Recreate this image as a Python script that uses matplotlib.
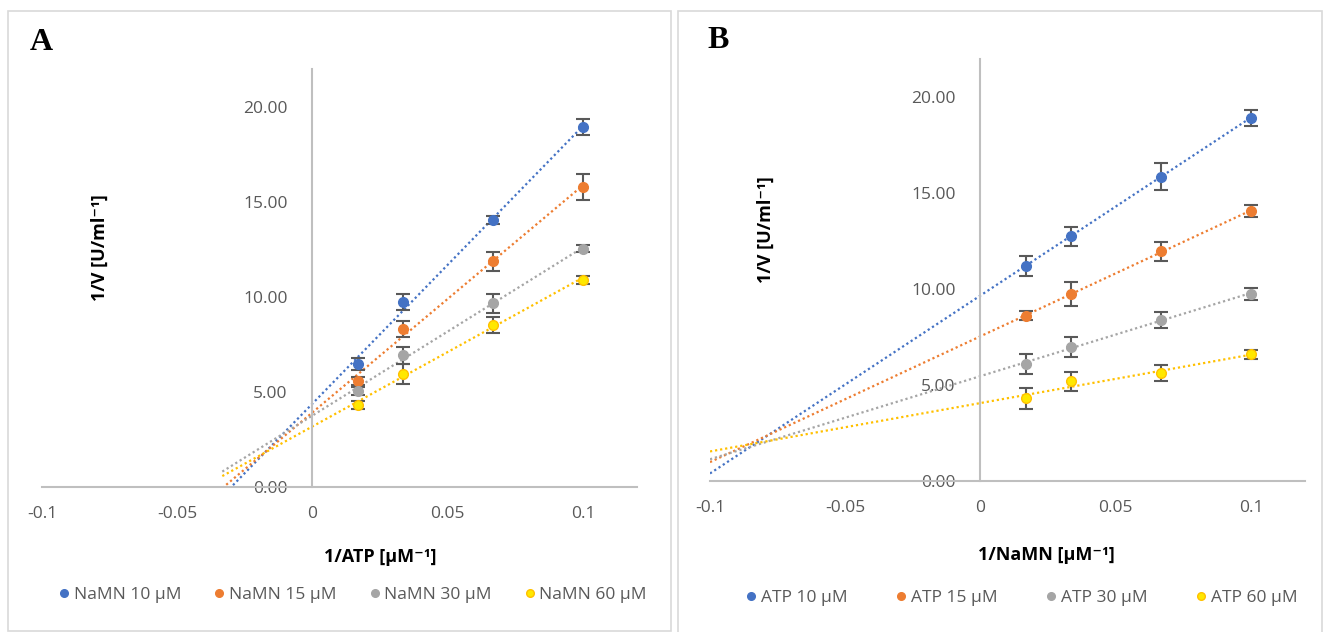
import numpy as np
import matplotlib
matplotlib.use("Agg")
import matplotlib.pyplot as plt
from matplotlib.patches import Rectangle
from matplotlib.lines import Line2D

plt.rcParams['font.family'] = ['Open Sans', 'DejaVu Sans']

# ---- data ----
x_vals = [1/60, 1/30, 1/15, 1/10]

labels_a = ["NaMN 10 µM", "NaMN 15 µM", "NaMN 30 µM", "NaMN 60 µM"]
y_a = [
    [6.47, 9.74, 14.05, 18.95],
    [5.58, 8.33, 11.89, 15.79],
    [5.05, 6.93, 9.68, 12.55],
    [4.31, 5.96, 8.54, 10.91],
]
err_a = [
    [0.30, 0.41, 0.22, 0.43],
    [0.20, 0.42, 0.50, 0.70],
    [0.23, 0.44, 0.50, 0.20],
    [0.22, 0.53, 0.41, 0.20],
]

labels_b = ["ATP 10 µM", "ATP 15 µM", "ATP 30 µM", "ATP 60 µM"]
y_b = [
    [11.20, 12.75, 15.85, 18.92],
    [8.61, 9.72, 11.96, 14.06],
    [6.10, 6.99, 8.39, 9.75],
    [4.30, 5.19, 5.61, 6.60],
]
err_b = [
    [0.50, 0.50, 0.70, 0.42],
    [0.22, 0.62, 0.50, 0.30],
    [0.51, 0.51, 0.41, 0.30],
    [0.54, 0.51, 0.42, 0.22],
]

x_ticks = [-0.1, -0.05, 0, 0.05, 0.1]
x_tick_labels = ["-0.1", "-0.05", "0", "0.05", "0.1"]
y_ticks = [0, 5, 10, 15, 20]
y_tick_labels = ["0.00", "5.00", "10.00", "15.00", "20.00"]

marker_face = ["#4472C4", "#ED7D31", "#A5A5A5", "#FFE800"]
marker_edge = ["#4472C4", "#ED7D31", "#A5A5A5", "#FFC000"]
line_cols = ["#4472C4", "#ED7D31", "#A5A5A5", "#FFC000"]

W, H = 1330, 632
fig = plt.figure(figsize=(W/100, H/100), dpi=100)

def fx(px):
    return px / W

def fy(py):
    return 1 - py / H

# panel borders
fig.patches.append(Rectangle((fx(8), fy(631)), fx(671) - fx(8), fy(11) - fy(631),
                             transform=fig.transFigure, fill=False, ec="#d9d9d9", lw=1.2))
fig.patches.append(Rectangle((fx(678), fy(640)), fx(1322) - fx(678), fy(11) - fy(640),
                             transform=fig.transFigure, fill=False, ec="#d9d9d9", lw=1.2))

def panel(rect, ys, errs, labels, trend_start, letter, letter_pos, xlabel, xlabel_pos,
          ylabel_pos, legend_pos, colspace):
    ax = fig.add_axes(rect)
    ax.set_xlim(-0.1, 0.12)
    ax.set_ylim(0, 22)
    for i in range(4):
        slope, inter = np.polyfit(x_vals, ys[i], 1)
        xt = np.array([trend_start, x_vals[-1]])
        ax.plot(xt, slope * xt + inter, ls=(0, (1, 1.3)), lw=1.6, color=line_cols[i], zorder=2)
        ax.errorbar(x_vals, ys[i], yerr=errs[i], fmt='none', ecolor="#595959",
                    elinewidth=1.5, capsize=5, capthick=1.5, zorder=3)
        ax.plot(x_vals, ys[i], 'o', ms=7, mfc=marker_face[i], mec=marker_edge[i], mew=1,
                zorder=4)
    for s in ['top', 'right']:
        ax.spines[s].set_visible(False)
    ax.spines['left'].set_position(('data', 0))
    ax.spines['left'].set_color("#bfbfbf")
    ax.spines['bottom'].set_color("#bfbfbf")
    ax.spines['left'].set_linewidth(1.5)
    ax.spines['bottom'].set_linewidth(1.5)
    ax.set_xticks(x_ticks)
    ax.set_xticklabels(x_tick_labels)
    ax.set_yticks(y_ticks)
    ax.set_yticklabels(y_tick_labels)
    ax.tick_params(axis='both', length=0, colors="#595959", labelsize=12.5)
    ax.tick_params(axis='x', pad=14)
    ax.tick_params(axis='y', pad=18)
    ax.patch.set_alpha(0)

    fig.text(fx(letter_pos[0]), fy(letter_pos[1]), letter, family=['Liberation Serif', 'DejaVu Serif'],
             fontweight='bold', fontsize=23, ha='center', va='center')
    fig.text(fx(xlabel_pos[0]), fy(xlabel_pos[1]), xlabel, fontweight='bold', fontsize=13,
             ha='center', va='center', color='black')
    fig.text(fx(ylabel_pos[0]), fy(ylabel_pos[1]), "1/V [U/ml⁻¹]", fontweight='bold',
             fontsize=13, ha='center', va='center', rotation=90, color='black')
    handles = [Line2D([], [], ls='none', marker='o', ms=5.5, mfc=marker_face[i], mec=marker_edge[i])
               for i in range(4)]
    leg = fig.legend(handles, labels, loc='center', bbox_to_anchor=(fx(legend_pos[0]), fy(legend_pos[1])),
                     ncol=4, frameon=False, fontsize=12.5, handletextpad=0.15, columnspacing=colspace,
                     handlelength=0.8)
    for t in leg.get_texts():
        t.set_color("#595959")
    return ax

axA = panel([fx(42), fy(487), fx(637) - fx(42), fy(69) - fy(487)], y_a, err_a, labels_a,
            -1/30, "A", (41, 42), "1/ATP [µM⁻¹]", (380, 557), (100, 248), (352, 595), 1.8)
axB = panel([fx(710), fy(481), fx(1305) - fx(710), fy(58.6) - fy(481)], y_b, err_b, labels_b,
            -0.1, "B", (718, 41), "1/NaMN [µM⁻¹]", (1046, 555), (766, 230), (1021, 598), 2.7)

fig.savefig("out.png", dpi=100)
